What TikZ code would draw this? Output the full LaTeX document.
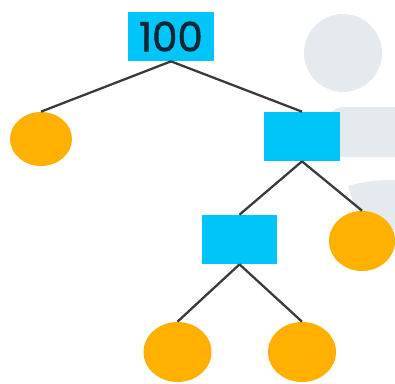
\documentclass[tikz,border=0pt]{standalone}
\usepackage{fontspec}
\setmainfont{Poppins}
\newfontfamily\digitfont{Poppins}[FakeBold=1.2]
\usetikzlibrary{shapes.geometric}

\definecolor{boxblue}{RGB}{0,197,248}
\definecolor{leaforange}{RGB}{255,176,0}
\definecolor{edgegray}{RGB}{58,58,58}
\definecolor{ghostgray}{RGB}{229,234,238}
\definecolor{digitink}{RGB}{16,38,52}

\tikzset{
  innerbox/.style={rectangle, fill=boxblue, minimum width=1.52cm, minimum height=0.98cm, inner sep=0pt},
  leaf/.style={ellipse, fill=leaforange, minimum width=1.36cm, minimum height=1.2cm, inner sep=0pt},
  branch/.style={draw=edgegray, line width=1.3pt}
}

\begin{document}
\begin{tikzpicture}[x=0.02cm,y=-0.02cm]
\useasboundingbox (0,0) rectangle (395,383);

% faint shapes behind the tree
\begin{scope}
\clip (0,0) rectangle (395,383);
\fill [ghostgray] (343,53) circle [radius=0.78cm];
\fill [ghostgray, rounded corners=0.3cm] (328,107) rectangle (440,157);
\fill [ghostgray] (348,186) .. controls (368,180) and (385,180) .. (400,180) -- (400,230) -- (362,230) -- cycle;
\end{scope}

% the tree
\node [innerbox, minimum width=1.72cm, text=digitink, font=\digitfont\fontsize{23}{23}\selectfont] (root) at (171,36.5) {100};
\node [leaf, minimum width=1.24cm, minimum height=1.08cm] (leafL) at (41,139) {};
\node [innerbox] (right) at (302,136.5) {};
\node [innerbox] (mid) at (239.5,239.5) {};
\node [leaf, minimum width=1.32cm] (leafR) at (362,241) {};
\node [leaf] (leafBL) at (177.5,352) {};
\node [leaf] (leafBR) at (302,352) {};

\draw [branch] (root.south) -- (leafL.north);
\draw [branch] (root.south) -- (right.north);
\draw [branch] (right.south) -- (mid.north);
\draw [branch] (right.south) -- (leafR.north);
\draw [branch] (mid.south) -- (leafBL.north);
\draw [branch] (mid.south) -- (leafBR.north);

\end{tikzpicture}
\end{document}
